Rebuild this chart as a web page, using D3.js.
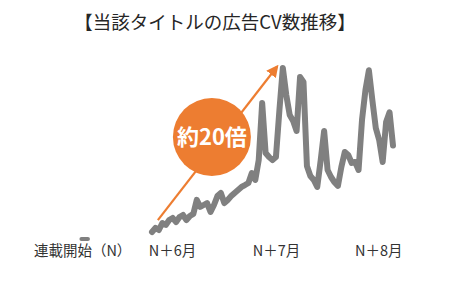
<!DOCTYPE html>
<html>
<head>
<meta charset="utf-8">
<script src="https://cdn.jsdelivr.net/npm/d3@7"></script>
<style>
  body { margin: 0; background: #fff; }
  svg text { font-family: "Noto Sans CJK JP", "Noto Sans", sans-serif; }
</style>
</head>
<body>
<div id="chart"></div>
<script>
const width = 450;
const height = 296;

// daily CV count (relative), starting a bit before N+6
const cvDays = d3.range(0, 71);
const cvValues = [
  4.6, 6.9, 5.7, 9.7, 8.6, 11.4, 12.6, 10.3, 13.1, 14.3,
  11.4, 13.7, 14.9, 22.9, 18.9, 20, 21.1, 16, 20, 25.1,
  26.9, 21.1, 22.9, 25.1, 26.9, 28.6, 30.3, 31.4, 32.6, 38.3,
  34.3, 45.7, 78.3, 49.7, 47.4, 45.7, 47.4, 74, 98.3, 82.9,
  71.4, 68, 62.3, 93.1, 90.3, 42.3, 36.6, 34.3, 30.3, 45.7,
  62.3, 40, 36, 33, 30.9, 41.7, 50.3, 48.6, 44, 44.6,
  40, 68.6, 85.7, 97, 80, 64, 57, 44.6, 67.4, 73, 54
];
// the start of the serial (N), on the broken part of the axis
const startDays = [-20.5, -18.6];
const startValues = [0.6, 0.6];

const tickDays = [-20.3, 5.8, 36, 65.7];
const tickLabels = ["連載開始（N）", "N＋6月", "N＋7月", "N＋8月"];

const title = "【当該タイトルの広告CV数推移】";
const badge = "約20倍";

const x = d3.scaleLinear().domain([0, 70]).range([152, 393]);
const y = d3.scaleLinear().domain([0, 100]).range([240, 65]);

const svg = d3.select("#chart").append("svg")
    .attr("width", width)
    .attr("height", height);

svg.append("text")
    .attr("x", 215)
    .attr("y", 29)
    .attr("text-anchor", "middle")
    .attr("font-size", 18.5)
    .attr("fill", "#262626")
    .text(title);

const line = d3.line()
    .x(d => x(d[0]))
    .y(d => y(d[1]));

// arrow + circle annotation
const orange = "#ED7D31";
svg.append("defs").append("marker")
    .attr("id", "head")
    .attr("viewBox", "0 0 10 10")
    .attr("refX", 8).attr("refY", 5)
    .attr("markerWidth", 5.5).attr("markerHeight", 5.5)
    .attr("orient", "auto")
    .append("path")
    .attr("d", "M0,0L10,5L0,10z")
    .attr("fill", orange);

svg.append("path")
    .attr("d", line([[1.7, 11.4], [36.3, 99]]))
    .attr("stroke", orange)
    .attr("stroke-width", 2.2)
    .attr("fill", "none")
    .attr("marker-end", "url(#head)");

svg.append("circle")
    .attr("cx", x(17.4))
    .attr("cy", y(58.9))
    .attr("r", 39)
    .attr("fill", orange);

svg.append("text")
    .attr("x", x(17.4))
    .attr("y", y(58.9) + 8)
    .attr("text-anchor", "middle")
    .attr("font-size", 22)
    .attr("font-weight", "bold")
    .attr("fill", "#fff")
    .text(badge);

// CV line
svg.append("path")
    .datum(cvDays.map((d, i) => [d, cvValues[i]]))
    .attr("d", line)
    .attr("fill", "none")
    .attr("stroke", "#808080")
    .attr("stroke-width", 6)
    .attr("stroke-linejoin", "round")
    .attr("stroke-linecap", "round");

svg.append("path")
    .datum(startDays.map((d, i) => [d, startValues[i]]))
    .attr("d", line)
    .attr("fill", "none")
    .attr("stroke", "#808080")
    .attr("stroke-width", 4)
    .attr("stroke-linecap", "round");

// month labels
const axis = d3.axisBottom(x)
    .tickValues(tickDays)
    .tickFormat((d, i) => tickLabels[i])
    .tickSize(0)
    .tickPadding(0);

const gx = svg.append("g")
    .attr("transform", "translate(0,246)")
    .call(axis);
gx.select(".domain").remove();
gx.selectAll("text")
    .attr("dy", "0.71em")
    .attr("font-size", 14.5)
    .attr("font-family", "\"Noto Sans CJK JP\", sans-serif")
    .attr("fill", "#333");
</script>
</body>
</html>
